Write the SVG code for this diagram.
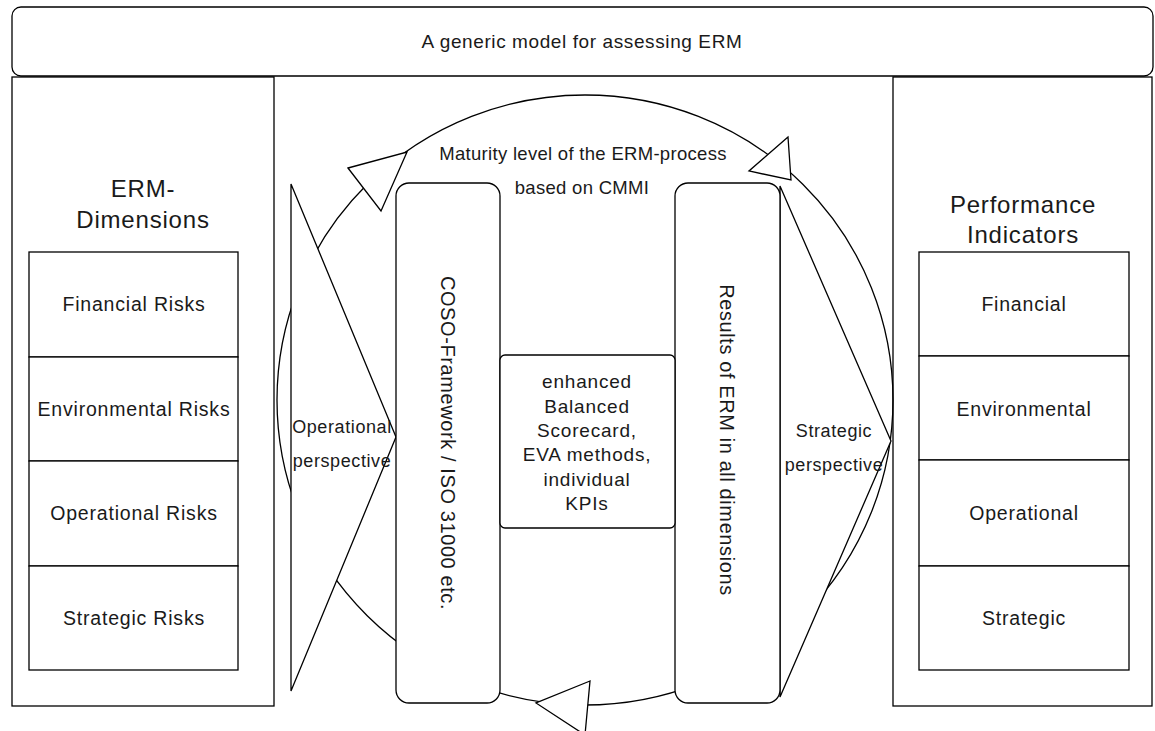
<svg xmlns="http://www.w3.org/2000/svg" width="1155" height="731" viewBox="0 0 1155 731">
<style>
.s{fill:none;stroke:#000;stroke-width:1.3}
.w{fill:#fff;stroke:#000;stroke-width:1.3}
text{font-family:"Liberation Sans",Arial,sans-serif;fill:#1a1a1a;text-anchor:middle}
.t{font-size:19px;letter-spacing:0.6px}
.h{font-size:24px;letter-spacing:0.8px}
.l{font-size:18.5px;letter-spacing:0.3px}
.m{font-size:19px;letter-spacing:0.8px}
.p{font-size:18px;letter-spacing:0.6px}
.r{font-size:19.5px;letter-spacing:0.8px}
.v{font-size:20px;letter-spacing:0.6px}
</style>
<rect width="1155" height="731" fill="#fff"/>
<g id="title">
<rect class="w" x="12" y="7" width="1141" height="69" rx="9"/>
<text class="t" x="582" y="48">A generic model for assessing ERM</text>
</g>
<g id="erm-dimensions">
<rect class="w" x="12" y="77" width="262" height="629"/>
<text class="h" x="143" y="197">ERM-</text>
<text class="h" x="143" y="228">Dimensions</text>
<rect class="w" x="29" y="252" width="209" height="105"/>
<text class="r" x="134" y="311">Financial Risks</text>
<rect class="w" x="29" y="357" width="209" height="104"/>
<text class="r" x="134" y="416">Environmental Risks</text>
<rect class="w" x="29" y="461" width="209" height="105"/>
<text class="r" x="134" y="520">Operational Risks</text>
<rect class="w" x="29" y="566" width="209" height="104"/>
<text class="r" x="134" y="625">Strategic Risks</text>
</g>
<g id="performance-indicators">
<rect class="w" x="893" y="77" width="259" height="629"/>
<text class="h" x="1023" y="213">Performance</text>
<text class="h" x="1023" y="243">Indicators</text>
<rect class="w" x="919" y="252" width="210" height="104"/>
<text class="r" x="1024" y="311">Financial</text>
<rect class="w" x="919" y="356" width="210" height="104"/>
<text class="r" x="1024" y="416">Environmental</text>
<rect class="w" x="919" y="460" width="210" height="106"/>
<text class="r" x="1024" y="520">Operational</text>
<rect class="w" x="919" y="566" width="210" height="104"/>
<text class="r" x="1024" y="625">Strategic</text>
</g>
<g id="connectors">
<ellipse class="s" cx="585" cy="400" rx="308" ry="305"/>
<polygon class="w" points="348,168 407,152 381,211"/>
<polygon class="w" points="788,137 749,171 791,180"/>
<polygon class="w" points="590,681 536,703 585,735"/>
</g>
<g id="operational-perspective">
<polygon class="w" points="291,184 396,437 291,691"/>
<text class="p" x="342" y="433">Operational</text>
<text class="p" x="342" y="467">perspective</text>
</g>
<g id="strategic-perspective">
<polygon class="w" points="780,186 891,441 780,697"/>
<text class="p" x="834" y="437">Strategic</text>
<text class="p" x="834" y="471">perspective</text>
</g>
<g id="maturity-label">
<text class="l" x="583" y="160">Maturity level of the ERM-process</text>
<text class="l" x="582" y="194">based on CMMI</text>
</g>
<g id="coso">
<rect class="w" x="396" y="183" width="104" height="520" rx="13"/>
<text class="v" transform="translate(448,443) rotate(90)" dy="0.35em">COSO-Framework / ISO 31000 etc.</text>
</g>
<g id="results">
<rect class="w" x="675" y="183" width="105" height="520" rx="13"/>
<text class="v" transform="translate(727,440) rotate(90)" dy="0.35em">Results of ERM in all dimensions</text>
</g>
<g id="methods">
<rect class="w" x="500" y="355" width="175" height="173" rx="5"/>
<text class="m" x="587" y="388">enhanced</text>
<text class="m" x="587" y="413">Balanced</text>
<text class="m" x="587" y="437">Scorecard,</text>
<text class="m" x="587" y="461">EVA methods,</text>
<text class="m" x="587" y="486">individual</text>
<text class="m" x="587" y="510">KPIs</text>
</g>
</svg>
